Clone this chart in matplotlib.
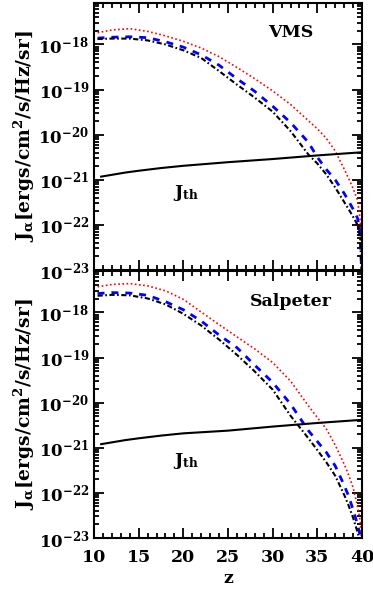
import numpy as np
import matplotlib
matplotlib.use("Agg")
import matplotlib.pyplot as plt
from matplotlib.ticker import FixedLocator, FuncFormatter, LogLocator, MultipleLocator, NullFormatter

plt.rcParams['font.family'] = ['DejaVu Serif']
plt.rcParams['font.weight'] = 'bold'
plt.rcParams['mathtext.fontset'] = 'dejavuserif'

# ---- data (log10 of J_alpha) ----
z_grid = [10.4, 12, 14, 16, 18, 20, 22, 24, 26, 28, 30, 32, 34, 35, 36, 37, 38, 38.5, 39, 39.5, 39.8, 40]

vms_red = [-17.74, -17.68, -17.65, -17.71, -17.81, -17.93, -18.08, -18.27, -18.51, -18.76, -19.03,
           -19.33, -19.69, -19.87, -20.08, -20.36, -20.76, -20.97, -21.19, -21.45, -21.9, -22.6]
vms_blue = [-17.86, -17.84, -17.83, -17.85, -17.94, -18.06, -18.23, -18.46, -18.76, -19.04, -19.37,
            -19.73, -20.17, -20.50, -20.77, -21.0, -21.3, -21.47, -21.65, -21.85, -22.2, -23.3]
vms_black = [-17.88, -17.87, -17.87, -17.91, -18.0, -18.13, -18.30, -18.59, -18.89, -19.18, -19.49,
             -19.92, -20.44, -20.64, -20.88, -21.17, -21.49, -21.65, -21.82, -22.0, -22.3, -23.3]

salp_red = [-17.43, -17.38, -17.36, -17.41, -17.52, -17.71, -17.99, -18.27, -18.54, -18.81, -19.11,
            -19.52, -20.07, -20.33, -20.58, -20.94, -21.36, -21.6, -21.88, -22.3, -22.62, -23.2]
salp_blue = [-17.58, -17.56, -17.57, -17.62, -17.76, -17.94, -18.19, -18.50, -18.78, -19.17, -19.55,
             -20.03, -20.62, -20.86, -21.10, -21.40, -21.83, -22.07, -22.37, -22.7, -22.95, -23.3]
salp_black = [-17.63, -17.61, -17.62, -17.69, -17.82, -18.03, -18.29, -18.60, -18.94, -19.31, -19.71,
              -20.29, -20.79, -21.05, -21.32, -21.62, -22.04, -22.28, -22.55, -22.87, -23.1, -23.3]

z_th = [10.8, 12, 13.5, 15, 17.5, 20, 22.5, 25, 27.5, 30, 32.5, 35, 37.5, 40]
vms_th = [-20.93, -20.89, -20.84, -20.80, -20.74, -20.69, -20.65, -20.61, -20.575, -20.54, -20.50,
          -20.46, -20.425, -20.39]
salp_th = [-20.92, -20.88, -20.83, -20.79, -20.73, -20.68, -20.65, -20.62, -20.575, -20.53, -20.49,
           -20.45, -20.415, -20.38]

panel_names = ["VMS", "Salpeter"]
x_ticks = [10, 15, 20, 25, 30, 35, 40]
y_decades = [-23, -22, -21, -20, -19, -18]

fig = plt.figure(figsize=(3.73, 5.92), dpi=100)
L, R = 94 / 373, 362 / 373
h = 267.5 / 592
ax_top = fig.add_axes([L, 1 - 270 / 592, R - L, h])
ax_bot = fig.add_axes([L, 1 - 538 / 592, R - L, h])

ymin, ymax = 1e-23, 10 ** (-17.07)

panels = [
    (ax_top, vms_red, vms_blue, vms_black, vms_th, panel_names[0], 0.888),
    (ax_bot, salp_red, salp_blue, salp_black, salp_th, panel_names[1], 0.884),
]

for ax, red, blue, black, th, name, ty in panels:
    zg = np.array(z_grid)
    ax.plot(zg, 10 ** np.array(red), color='red', linestyle=(0, (1, 1.5)), lw=1.2)
    ax.plot(zg, 10 ** np.array(blue), color='blue', linestyle=(0, (2.5, 2.5)), lw=2.0)
    ax.plot(zg, 10 ** np.array(black), color='black', linestyle=(0, (2.5, 1.2, 0.8, 1.2)), lw=1.5)
    ax.plot(z_th, 10 ** np.array(th), color='black', linestyle='-', lw=1.5)
    ax.set_yscale('log')
    ax.set_xlim(10, 40)
    ax.set_ylim(ymin, ymax)
    ax.xaxis.set_major_locator(FixedLocator(x_ticks))
    ax.xaxis.set_minor_locator(MultipleLocator(1))
    ax.yaxis.set_major_locator(FixedLocator([10.0 ** d for d in y_decades]))
    ax.yaxis.set_minor_locator(LogLocator(base=10, subs=np.arange(2, 10), numticks=20))
    ax.yaxis.set_minor_formatter(NullFormatter())
    ax.yaxis.set_major_formatter(FuncFormatter(lambda v, p: r'$\mathbf{10^{%d}}$' % int(round(np.log10(v)))))
    ax.tick_params(which='both', direction='in', top=True, right=True, width=1.3)
    ax.tick_params(which='major', length=7, labelsize=12)
    ax.tick_params(which='minor', length=3.5)
    for s in ax.spines.values():
        s.set_linewidth(1.5)
    ax.text(0.735, ty, name, transform=ax.transAxes,
            ha='center', va='center', fontsize=12.5, fontweight='bold')
    ax.text(20.3, 10 ** (-21.3), r'$\mathbf{J_{th}}$', ha='center', va='center', fontsize=12.5)
    ax.set_ylabel(r'$\mathbf{J_{\alpha}[ergs/cm^2/s/Hz/sr]}$', fontsize=13.5, labelpad=1)

ax_top.tick_params(axis='x', labelbottom=False)
ax_bot.set_xticklabels([str(t) for t in x_ticks], fontsize=12.5, fontweight='bold')
ax_bot.tick_params(axis='x', pad=8)
ax_bot.set_xlabel('z', fontsize=12.5, fontweight='bold', labelpad=3)

fig.savefig('out.png', dpi=100)
